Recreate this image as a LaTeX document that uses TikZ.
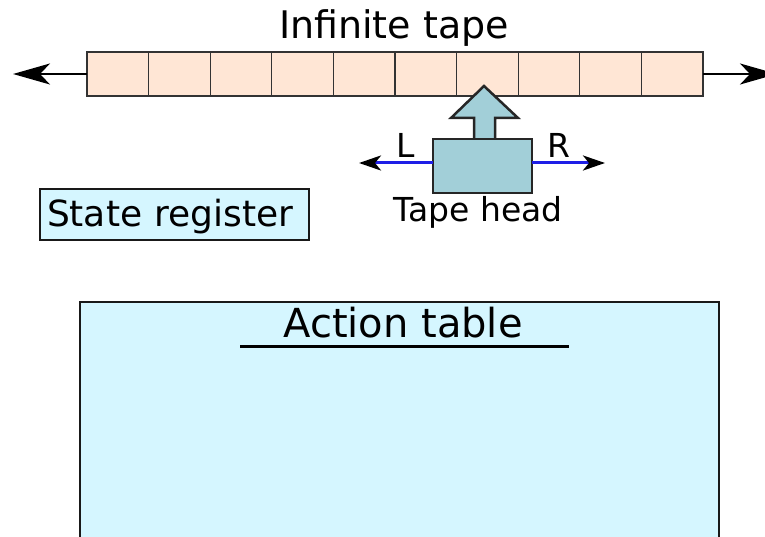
\documentclass[tikz,border=0pt]{standalone}
\usepackage{fontspec}
\setmainfont{DejaVu Sans}
\usetikzlibrary{arrows.meta}
\definecolor{tapeColor}{HTML}{FFE6D5}
\definecolor{headColor}{HTML}{A2CFD8}
\definecolor{boxColor}{HTML}{D5F6FF}
\definecolor{moveColor}{HTML}{1E1EE6}

\begin{document}
\begin{tikzpicture}[x=1pt,y=-1pt,%%
  cellStyle/.style={draw=black!80,fill=tapeColor,line width=1.2pt,inner sep=0pt,%%
    outer sep=0pt,minimum width=\cellWidth pt,minimum height=44pt},%%
  tapeArrowStyle/.style={-{Stealth[length=37pt,width=21pt,inset=10pt]},line width=1.8pt},%%
  headStyle/.style={draw=black!85,fill=headColor,line width=2.5pt,inner sep=0pt,outer sep=0pt},%%
  moveStyle/.style={-{Stealth[length=22pt,width=15pt,inset=6pt,color=black]},%%
    draw=moveColor,line width=3pt},%%
  boxStyle/.style={draw=black!90,fill=boxColor,line width=1.6pt,outer sep=0pt},%%
  textStyle/.style={inner sep=0pt,anchor=base},%%
  ruleStyle/.style={-,line width=3pt}%%
]
%%
%% Page and clipping.
\path[use as bounding box,clip] (0,0) rectangle (765,537);
%%
\pgfmathsetmacro{\tapeStart}{87}  %% left end of the tape
\pgfmathsetmacro{\cellWidth}{61.6}  %% width of one cell
\pgfmathsetmacro{\tapeY}{74}  %% middle of the tape
%%
%% Draw the tape cells.
\foreach \i in {1,...,10}
  \node[cellStyle] (cell\i) at ({\tapeStart+(\i-0.5)*\cellWidth},\tapeY) {};
%% The tape runs on to both sides.
\coordinate (tapeLeftEnd) at (13,\tapeY);
\coordinate (tapeRightEnd) at (777,\tapeY);
\draw[tapeArrowStyle] (cell1.west) -- (tapeLeftEnd);
\draw[tapeArrowStyle] (cell10.east) -- (tapeRightEnd);
%% Label the tape.
\node[textStyle,font=\fontsize{38}{44}\selectfont] (tapeLabel) at (394,39) {Infinite tape};
%%
%% Draw the tape head.
\draw[headStyle] (474,140) -- (474,118) -- (451,118) -- (484,86) -- (518,118)
  -- (495,118) -- (495,140);
\node[headStyle,minimum width=99pt,minimum height=54pt] (head) at (482.5,166) {};
%% The moves of the head.
\coordinate (moveLeft) at (359,163);
\coordinate (moveRight) at (605,163);
\draw[moveStyle] (head.west |- moveLeft) -- (moveLeft);
\draw[moveStyle] (head.east |- moveRight) -- (moveRight);
\node[textStyle,font=\fontsize{33}{38}\selectfont] (leftLabel) at (406,158) {L};
\node[textStyle,font=\fontsize{33}{38}\selectfont] (rightLabel) at (559,158) {R};
\node[textStyle,font=\fontsize{33}{38}\selectfont] (headLabel) at (478,222) {Tape head};
%%
%% Draw the state register.
\node[boxStyle,font=\fontsize{36}{42}\selectfont,align=left,text width=255pt,%%
  inner xsep=7pt,inner ysep=3pt,text height=35pt,text depth=10pt] (register)
  at (174.5,214.5) {State register};
%%
%% Draw the action table.
\node[boxStyle,line width=2.2pt,anchor=north west,minimum width=639pt,%%
  minimum height=260pt] (table) at (80,302) {};
\node[textStyle,font=\fontsize{40}{46}\selectfont] (tableLabel) at (403,337) {Action table};
\draw[ruleStyle] (240,346) -- (569,346);
\end{tikzpicture}
\end{document}
